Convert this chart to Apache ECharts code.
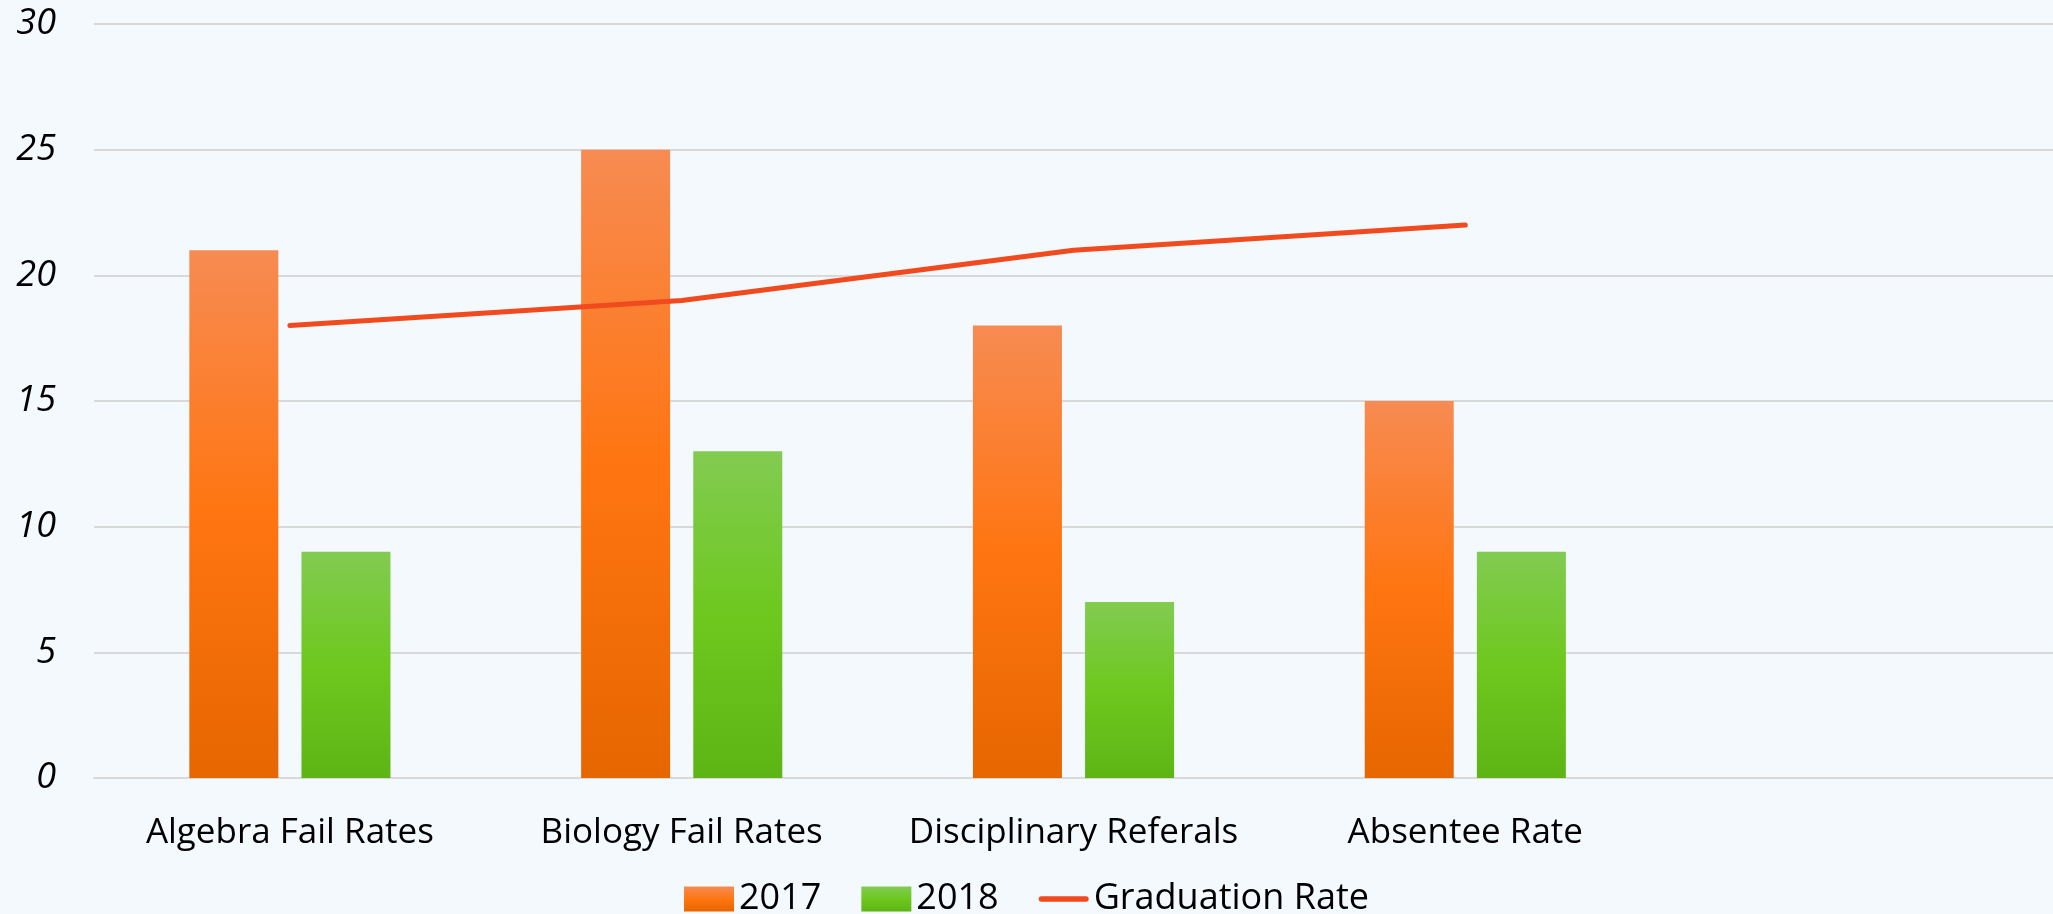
<!DOCTYPE html>
<html>
<head>
<meta charset="utf-8">
<script src="https://cdn.jsdelivr.net/npm/echarts@6/dist/echarts.min.js"></script>
<style>
html, body { margin: 0; padding: 0; background: #f4f9fd; }
#chart { width: 2053px; height: 914px; }
</style>
</head>
<body>
<div id="chart"></div>
<script>
var categories = ['Algebra Fail Rates', 'Biology Fail Rates', 'Disciplinary Referals', 'Absentee Rate', ''];
var values2017 = [21, 25, 18, 15];
var values2018 = [9, 13, 7, 9];
var graduationRate = [18, 19, 21, 22];
var yTicks = { min: 0, max: 30, interval: 5 };

var font = "'Open Sans', 'DejaVu Sans', sans-serif";

function grad(top, mid, bottom) {
    return new echarts.graphic.LinearGradient(0, 0, 0, 1, [
        { offset: 0, color: top },
        { offset: 0.5, color: mid },
        { offset: 1, color: bottom }
    ]);
}

var chart = echarts.init(document.getElementById('chart'));
var option = {
    backgroundColor: '#f4f9fd',
    animation: false,
    textStyle: { fontFamily: font, color: '#000' },
    grid: { left: 94, right: 0, top: 24, bottom: 136 },
    legend: {
        top: 876,
        left: 'center',
        itemWidth: 50,
        itemHeight: 25,
        itemGap: 40,
        textStyle: { fontSize: 36, color: '#000', fontFamily: font },
        data: [
            { name: '2017', icon: 'rect' },
            { name: '2018', icon: 'rect' },
            { name: 'Graduation Rate', icon: 'path://M3,0 h50 a3,3 0 0 1 0,6 h-50 a3,3 0 0 1 0,-6 z' }
        ]
    },
    xAxis: {
        type: 'category',
        data: categories,
        axisTick: { show: false },
        axisLine: { lineStyle: { color: '#d9d9d9', width: 2 } },
        axisLabel: { fontSize: 35, color: '#000', margin: 38, fontFamily: font, interval: 0 }
    },
    yAxis: {
        type: 'value',
        min: yTicks.min,
        max: yTicks.max,
        interval: yTicks.interval,
        axisLine: { show: false },
        axisTick: { show: false },
        axisLabel: { fontSize: 36, color: '#000', margin: 38, fontFamily: font, fontStyle: 'italic' },
        splitLine: { lineStyle: { color: '#d9d9d9', width: 2 } }
    },
    series: [
        {
            name: '2017',
            type: 'bar',
            data: values2017,
            barWidth: 89,
            barGap: '26%',
            itemStyle: { color: grad('#f78b52', '#ff7511', '#e66600') }
        },
        {
            name: '2018',
            type: 'bar',
            data: values2018,
            barWidth: 89,
            barGap: '26%',
            itemStyle: { color: grad('#82cb52', '#6ec81e', '#5db515') }
        },
        {
            name: 'Graduation Rate',
            type: 'line',
            data: graduationRate,
            symbol: 'none',
            itemStyle: { color: '#f04a1e' },
            lineStyle: { color: '#f04a1e', width: 5, cap: 'round', join: 'round' }
        }
    ]
};
chart.setOption(option);
window.onresize = chart.resize;
</script>
</body>
</html>
